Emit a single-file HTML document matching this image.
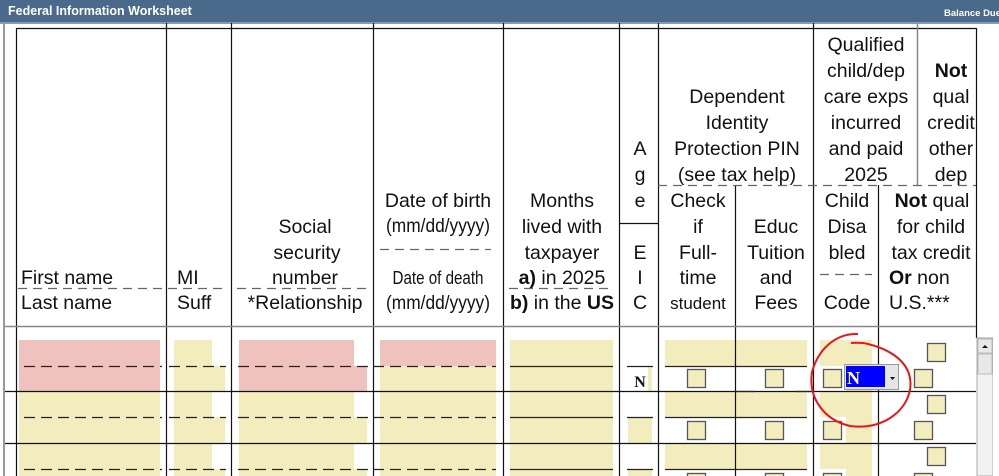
<!DOCTYPE html>
<html><head><meta charset="utf-8"><style>
html,body{margin:0;padding:0;background:#fff;width:999px;height:476px;overflow:hidden}
svg{display:block}
text{font-family:"Liberation Sans",Arial,sans-serif;font-size:19.5px;fill:#111}
.c{text-anchor:middle}
.n{font-size:17px}
</style></head><body>
<svg width="999" height="476" viewBox="0 0 999 476" xmlns="http://www.w3.org/2000/svg">
<!-- title bar -->
<rect x="0" y="0" width="999" height="22" fill="#4a6a8c"/>
<rect x="0" y="22" width="999" height="2" fill="#8a9aaa"/>
<text x="8" y="15" style="font-size:12.5px;font-weight:bold;fill:#fff">Federal Information Worksheet</text>
<text x="944" y="16" style="font-size:9.5px;font-weight:bold;fill:#fff">Balance Due</text>
<rect x="3" y="24" width="2" height="452" fill="#999"/>

<!-- yellow / pink fields -->
<g fill="#f3edbd">
<rect x="174" y="340" width="38" height="26"/><rect x="174" y="366" width="51" height="25"/>
<rect x="510" y="340" width="103" height="136"/>
<rect x="665" y="340" width="142" height="26"/>
<rect x="820" y="340" width="52" height="26"/><rect x="846" y="366" width="26" height="25"/>
<rect x="19" y="391" width="141" height="85"/>
<rect x="174" y="391" width="38" height="85"/><rect x="212" y="417" width="13" height="26"/><rect x="212" y="469" width="13" height="7"/>
<rect x="239" y="391" width="115" height="85"/><rect x="354" y="417" width="13" height="26"/><rect x="354" y="469" width="13" height="7"/>
<rect x="380" y="366" width="116" height="110"/>
<rect x="628" y="417" width="24" height="26"/><rect x="628" y="469" width="24" height="7"/><rect x="648" y="366" width="4" height="25"/>
<rect x="665" y="392" width="142" height="25"/><rect x="665" y="443" width="142" height="26"/>
<rect x="820" y="392" width="52" height="25"/><rect x="846" y="417" width="26" height="26"/>
<rect x="820" y="443" width="52" height="26"/><rect x="846" y="469" width="26" height="7"/>
</g>
<g fill="#f0c2be">
<rect x="19" y="340" width="141" height="51"/>
<rect x="239" y="340" width="115" height="26"/><rect x="239" y="366" width="128" height="25"/>
<rect x="380" y="340" width="116" height="26"/>
</g>

<!-- table border + column lines -->
<g stroke="#111" stroke-width="1.2" fill="none">
<path d="M16.5 28.5 H976.5"/>
<path d="M16.5 28 V476"/>
<path d="M976.5 28 V338"/>
<path d="M166.5 23 V476 M231.5 23 V476 M373.5 23 V476 M503.5 23 V476 M619.5 23 V476 M658.5 23 V476 M813.5 23 V476"/>
<path d="M735.5 185 V476 M878.5 185 V476"/>
<path d="M619 223.5 H658"/>
<path d="M5 391.5 H976 M5 443.5 H976"/>
</g>
<g stroke="#888" stroke-width="1.5" fill="none">
<path d="M917.5 23 V185"/>
<path d="M5 326.5 H976"/>
</g>
<!-- header dashes -->
<g stroke="#666" stroke-width="1.2" stroke-dasharray="9,6" fill="none">
<path d="M658 185.5 H976"/>
<path d="M18 288.5 H162 M168 288.5 H226 M237 288.5 H367"/>
<path d="M380 249.5 H491"/>
<path d="M509 288.5 H613"/>
<path d="M820 274.5 H872"/>
</g>
<!-- row dashes -->
<g stroke="#222" stroke-width="1.2" stroke-dasharray="11,6" fill="none">
<path d="M24 366.5 H162 M169 366.5 H226 M238 366.5 H368 M373 366.5 H496"/>
<path d="M24 417.5 H162 M169 417.5 H226 M238 417.5 H368 M373 417.5 H496"/>
<path d="M24 469.5 H162 M169 469.5 H226 M238 469.5 H368 M373 469.5 H496"/>
</g>
<g stroke="#222" stroke-width="1.2" fill="none">
<path d="M510 366.5 H613 M510 417.5 H613 M510 469.5 H613"/>
<path d="M627 366.5 H653 M627 417.5 H653 M627 469.5 H653"/>
<path d="M665 366.5 H807 M665 417.5 H807 M665 469.5 H807"/>
<path d="M735 391.5 H755 M795 391.5 H813"/>
</g>
<!-- checkboxes -->
<g fill="#f3edbd" stroke="#555" stroke-width="1.3">
<rect x="687.5" y="369.5" width="18" height="18"/><rect x="765.5" y="369.5" width="18" height="18"/><rect x="823.5" y="369.5" width="18" height="18"/>
<rect x="687.5" y="421.5" width="18" height="18"/><rect x="765.5" y="421.5" width="18" height="18"/><rect x="823.5" y="421.5" width="18" height="18"/>
<rect x="687.5" y="473.5" width="18" height="18"/><rect x="765.5" y="473.5" width="18" height="18"/><rect x="823.5" y="473.5" width="18" height="18"/>
<rect x="927.5" y="343.5" width="18" height="18"/><rect x="914.5" y="369.5" width="18" height="18"/>
<rect x="927.5" y="395.5" width="18" height="18"/><rect x="914.5" y="421.5" width="18" height="18"/>
<rect x="927.5" y="447.5" width="18" height="18"/><rect x="914.5" y="473.5" width="18" height="18"/>
</g>
<text x="640" y="387" class="c" style="font-family:'Liberation Serif',serif;font-weight:bold;font-size:16px">N</text>
<!-- dropdown -->
<rect x="844.5" y="364.5" width="54" height="25" fill="#e6e6e6" stroke="#999"/>
<rect x="846" y="366" width="39" height="21" fill="#0000ff"/>
<text x="847" y="384" style="font-family:'Liberation Serif',serif;font-weight:bold;font-size:18px;fill:#fff">N</text>
<path d="M890 377 h5 l-2.5 3 z" fill="#111"/>
<!-- scrollbar -->
<rect x="977" y="338" width="16" height="138" fill="#f2f2f2" stroke="#aaa"/>
<rect x="978" y="339" width="14" height="14" fill="#e8e8e8" stroke="#bbb"/>
<path d="M982 348 h6 l-3 -3 z" fill="#111"/>
<rect x="978" y="354" width="14" height="20" fill="#e8e8e8" stroke="#bbb"/>
<rect x="993" y="338" width="6" height="138" fill="#fff"/>
<!-- red circle -->
<path d="M858 334 C835 333 818 350 812 372 C808 398 824 420 850 426 C880 430 905 414 910 390 C914 364 892 350 868 344 C860 342 853 343 851 343" fill="none" stroke="#e8161a" stroke-width="2"/>

<!-- header text -->
<text x="21" y="284">First name</text>
<text x="21" y="309">Last name</text>
<text x="177" y="284">MI</text>
<text x="177" y="309">Suff</text>
<g class="c">
<text x="305" y="233" class="c">Social</text>
<text x="307" y="259" class="c">security</text>
<text x="305" y="284" class="c">number</text>
<text x="305" y="309" class="c">*Relationship</text>
<text x="438" y="207" class="c">Date of birth</text>
<text x="438" y="232" class="c" textLength="104" lengthAdjust="spacingAndGlyphs">(mm/dd/yyyy)</text>
<text x="438" y="284" class="c" textLength="91" lengthAdjust="spacingAndGlyphs" style="font-size:18px">Date of death</text>
<text x="438" y="309" class="c" textLength="104" lengthAdjust="spacingAndGlyphs">(mm/dd/yyyy)</text>
<text x="562" y="207" class="c">Months</text>
<text x="562" y="233" class="c">lived with</text>
<text x="562" y="259" class="c">taxpayer</text>
<text x="562" y="284" class="c"><tspan font-weight="bold">a)</tspan> in 2025</text>
<text x="562" y="309" class="c"><tspan font-weight="bold">b)</tspan> in the <tspan font-weight="bold">US</tspan></text>
<text x="640" y="155" class="c">A</text>
<text x="640" y="181" class="c">g</text>
<text x="640" y="207" class="c">e</text>
<text x="640" y="259" class="c">E</text>
<text x="640" y="284" class="c">I</text>
<text x="640" y="309" class="c">C</text>
<text x="737" y="103" class="c">Dependent</text>
<text x="737" y="129" class="c">Identity</text>
<text x="737" y="155" class="c">Protection PIN</text>
<text x="737" y="181" class="c">(see tax help)</text>
<text x="698" y="207" class="c">Check</text>
<text x="698" y="233" class="c">if</text>
<text x="698" y="259" class="c">Full-</text>
<text x="698" y="284" class="c">time</text>
<text x="698" y="309" class="c n">student</text>
<text x="776" y="233" class="c">Educ</text>
<text x="776" y="259" class="c">Tuition</text>
<text x="776" y="284" class="c">and</text>
<text x="776" y="309" class="c">Fees</text>
<text x="866" y="51" class="c">Qualified</text>
<text x="866" y="77" class="c">child/dep</text>
<text x="866" y="103" class="c">care exps</text>
<text x="866" y="129" class="c">incurred</text>
<text x="866" y="155" class="c">and paid</text>
<text x="866" y="181" class="c">2025</text>
<text x="847" y="207" class="c">Child</text>
<text x="847" y="233" class="c">Disa</text>
<text x="847" y="259" class="c">bled</text>
<text x="847" y="309" class="c">Code</text>
<text x="951" y="77" class="c" font-weight="bold">Not</text>
<text x="951" y="103" class="c">qual</text>
<text x="951" y="129" class="c">credit</text>
<text x="951" y="155" class="c">other</text>
<text x="951" y="181" class="c">dep</text>
<text x="932" y="207" class="c"><tspan font-weight="bold">Not</tspan> qual</text>
<text x="931" y="233" class="c">for child</text>
<text x="931" y="259" class="c">tax credit</text>
</g>
<text x="889" y="284"><tspan font-weight="bold">Or</tspan> non</text>
<text x="889" y="309">U.S.***</text>
</svg>
</body></html>
